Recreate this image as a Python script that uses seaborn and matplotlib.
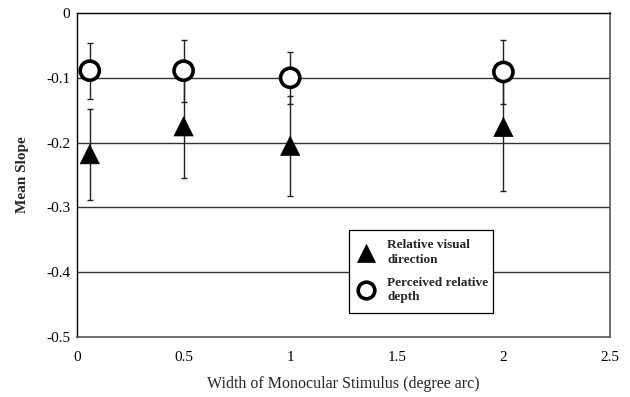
import numpy as np
import pandas as pd
import matplotlib
matplotlib.use("Agg")
import matplotlib.pyplot as plt
import seaborn as sns
from matplotlib.lines import Line2D

# Stimulus widths (degree arc)
widths = [0.06, 0.5, 1.0, 2.0]

# Relative visual direction: mean slope and error
rvd_mean = [-0.218, -0.175, -0.205, -0.176]
rvd_err = [0.070, 0.080, 0.077, 0.098]

# Perceived relative depth: mean slope and error
prd_mean = [-0.089, -0.089, -0.100, -0.091]
prd_err = [0.043, 0.048, 0.040, 0.050]

series_labels = ["Relative visual\ndirection", "Perceived relative\ndepth"]
x_ticks = [0, 0.5, 1, 1.5, 2, 2.5]
x_tick_labels = ["0", "0.5", "1", "1.5", "2", "2.5"]
y_ticks = [0, -0.1, -0.2, -0.3, -0.4, -0.5]
y_tick_labels = ["0", "-0.1", "-0.2", "-0.3", "-0.4", "-0.5"]

sns.set_style("white")
plt.rcParams["font.family"] = ["Liberation Serif", "DejaVu Serif"]
plt.rcParams["axes.unicode_minus"] = False

df = pd.DataFrame({
    "width": widths * 2,
    "slope": rvd_mean + prd_mean,
    "err": rvd_err + prd_err,
    "measure": [series_labels[0]] * 4 + [series_labels[1]] * 4,
})

fig = plt.figure(figsize=(6.3, 3.97), dpi=100)
ax = fig.add_axes([0.1222, 0.1511, 0.8461, 0.8162])

# horizontal reference lines
for yv in y_ticks[1:-1]:
    ax.axhline(yv, color="#333333", lw=1.0, zorder=1)

# error bars
for lab in series_labels:
    sub = df[df["measure"] == lab]
    ax.errorbar(sub["width"], sub["slope"], yerr=sub["err"], fmt="none",
                ecolor="#222222", elinewidth=1.0, capsize=2.5, capthick=1.0,
                zorder=2)

sns.scatterplot(data=df, x="width", y="slope", style="measure",
                markers={series_labels[0]: "^", series_labels[1]: "o"},
                hue="measure",
                palette={series_labels[0]: "black", series_labels[1]: "white"},
                s=190, edgecolor="black", linewidth=2.6, legend=False,
                ax=ax, zorder=3)
# triangles: thin edge, solid fill
coll = ax.collections[-1]
lw = [0.5 if m == series_labels[0] else 2.6 for m in df["measure"]]
coll.set_linewidths(lw)

ax.set_xlim(0, 2.5)
ax.set_ylim(-0.5, 0)
ax.set_xticks(x_ticks)
ax.set_xticklabels(x_tick_labels)
ax.set_yticks(y_ticks)
ax.set_yticklabels(y_tick_labels)
ax.tick_params(axis="both", direction="in", length=4, width=0.8,
               labelsize=11, colors="black", pad=5)
ax.tick_params(axis="x", pad=10)

for side in ["left", "top"]:
    ax.spines[side].set_color("black")
    ax.spines[side].set_linewidth(1.0)
for side in ["right", "bottom"]:
    ax.spines[side].set_color("#555555")
    ax.spines[side].set_linewidth(1.2)

ax.set_xlabel("Width of Monocular Stimulus (degree arc)", fontsize=11.5,
              labelpad=9)
ax.set_ylabel("Mean Slope", fontsize=11, fontweight="bold", labelpad=12)

# legend
handles = [
    Line2D([], [], ls="none", marker="^", markersize=13, markerfacecolor="black",
           markeredgecolor="black", markeredgewidth=0.5),
    Line2D([], [], ls="none", marker="o", markersize=12, markerfacecolor="white",
           markeredgecolor="black", markeredgewidth=2.6),
]
leg = ax.legend(handles, series_labels, loc="upper left",
                bbox_to_anchor=(0.51, 0.0, 0.27, 0.330), mode="expand",
                frameon=True, fancybox=False, edgecolor="black",
                framealpha=1.0, facecolor="white",
                prop={"weight": "bold", "size": 9.5}, handlelength=1.2,
                handletextpad=1.0, labelspacing=0.8, borderpad=0.7,
                borderaxespad=0)
for t in leg.get_texts():
    t.set_linespacing(1.3)
leg.get_frame().set_linewidth(0.9)

fig.savefig("out.png", dpi=100, facecolor="white")
